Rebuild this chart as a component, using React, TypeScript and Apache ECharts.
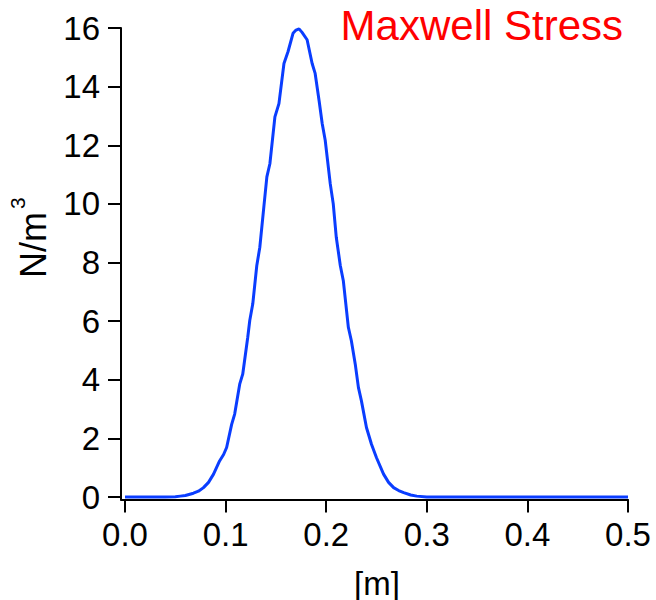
import React, { useEffect, useRef } from 'react';
import * as echarts from 'echarts';

// Position along the gap [m]
const positions = [
  0, 0.02, 0.04, 0.05, 0.055, 0.06, 0.068, 0.073, 0.078, 0.083, 0.088, 0.094, 0.098,
  0.101, 0.106, 0.109, 0.114, 0.117, 0.122, 0.124, 0.127, 0.131, 0.134, 0.138, 0.141,
  0.144, 0.149, 0.153, 0.158, 0.162, 0.167, 0.17, 0.173, 0.176, 0.181, 0.186, 0.189,
  0.193, 0.196, 0.199, 0.204, 0.207, 0.21, 0.214, 0.217, 0.222, 0.225, 0.229, 0.232,
  0.235, 0.24, 0.245, 0.25, 0.257, 0.262, 0.267, 0.272, 0.277, 0.284, 0.29, 0.3, 0.4, 0.5,
];

// Maxwell stress [N/m^3]
const stress = [
  0, 0, 0, 0.01, 0.03, 0.05, 0.13, 0.2, 0.32, 0.5, 0.78, 1.23, 1.45,
  1.69, 2.48, 2.83, 3.85, 4.19, 5.45, 6.02, 6.59, 7.9, 8.52, 9.9, 10.92,
  11.37, 12.97, 13.42, 14.79, 15.19, 15.82, 15.93, 15.97, 15.85, 15.6, 14.79, 14.45,
  13.5, 12.74, 12.17, 10.69, 10.0, 8.86, 7.9, 7.38, 5.79, 5.33, 4.5, 3.74,
  3.28, 2.37, 1.8, 1.34, 0.78, 0.5, 0.32, 0.22, 0.15, 0.07, 0.03, 0, 0, 0,
];

const xTicks = [0, 0.1, 0.2, 0.3, 0.4, 0.5];
const yTicks = [0, 2, 4, 6, 8, 10, 12, 14, 16];

const titleText = 'Maxwell Stress';
const xName = '[m]';
const yNameMain = 'N/m';
const yNameSup = '3';

const FONT = "'Liberation Sans', Arial, Helvetica, sans-serif";

export default function App() {
  const ref = useRef<HTMLDivElement>(null);

  useEffect(() => {
    if (!ref.current) return;
    const chart = echarts.init(ref.current, null, { renderer: 'svg' });

    const axisLine = { show: true, onZero: false, lineStyle: { color: '#000', width: 2 } };
    const axisTick = { show: true, inside: false, length: 13, lineStyle: { color: '#000', width: 2 } };

    chart.setOption({
      animation: false,
      backgroundColor: '#fff',
      grid: { left: 121, right: 28, top: 28, bottom: 100.5, containLabel: false },
      xAxis: {
        type: 'value',
        min: -0.004,
        max: 0.5,
        axisLine,
        axisTick: { ...axisTick, customValues: xTicks },
        splitLine: { show: false },
        axisLabel: {
          customValues: xTicks,
          margin: 18,
          color: '#000',
          fontSize: 33,
          fontFamily: FONT,
          formatter: (v: number) => v.toFixed(1),
        },
      },
      yAxis: {
        type: 'value',
        min: -0.085,
        max: 16,
        axisLine,
        axisTick: { ...axisTick, customValues: yTicks },
        splitLine: { show: false },
        axisLabel: {
          customValues: yTicks,
          margin: 21,
          color: '#000',
          fontSize: 33,
          fontFamily: FONT,
          formatter: (v: number) => String(v),
        },
      },
      series: [
        {
          type: 'line',
          data: positions.map((x, i) => [x, stress[i]]),
          showSymbol: false,
          lineStyle: { color: '#0a3dff', width: 3 },
          z: 1,
        },
      ],
      graphic: [
        {
          type: 'text',
          x: 623,
          y: 25,
          style: {
            text: titleText,
            fill: '#ff0000',
            fontSize: 42,
            fontFamily: FONT,
            align: 'right',
            verticalAlign: 'middle',
          },
        },
        {
          type: 'text',
          x: 377,
          y: 583,
          style: {
            text: xName,
            fill: '#000',
            fontSize: 33,
            fontFamily: FONT,
            align: 'center',
            verticalAlign: 'middle',
          },
        },
        {
          type: 'group',
          x: 33.5,
          y: 278,
          rotation: Math.PI / 2,
          children: [
            {
              type: 'text',
              x: 0,
              y: 0,
              style: {
                text: yNameMain,
                fill: '#000',
                fontSize: 36,
                fontFamily: FONT,
                align: 'left',
                verticalAlign: 'middle',
              },
            },
            {
              type: 'text',
              x: 69,
              y: -16,
              style: {
                text: yNameSup,
                fill: '#000',
                fontSize: 21,
                fontFamily: FONT,
                align: 'left',
                verticalAlign: 'middle',
              },
            },
          ],
        },
      ],
    });

    return () => chart.dispose();
  }, []);

  return (
    <div
      ref={ref}
      style={{ position: 'absolute', left: 0, top: 0, width: 656, height: 600 }}
    />
  );
}
